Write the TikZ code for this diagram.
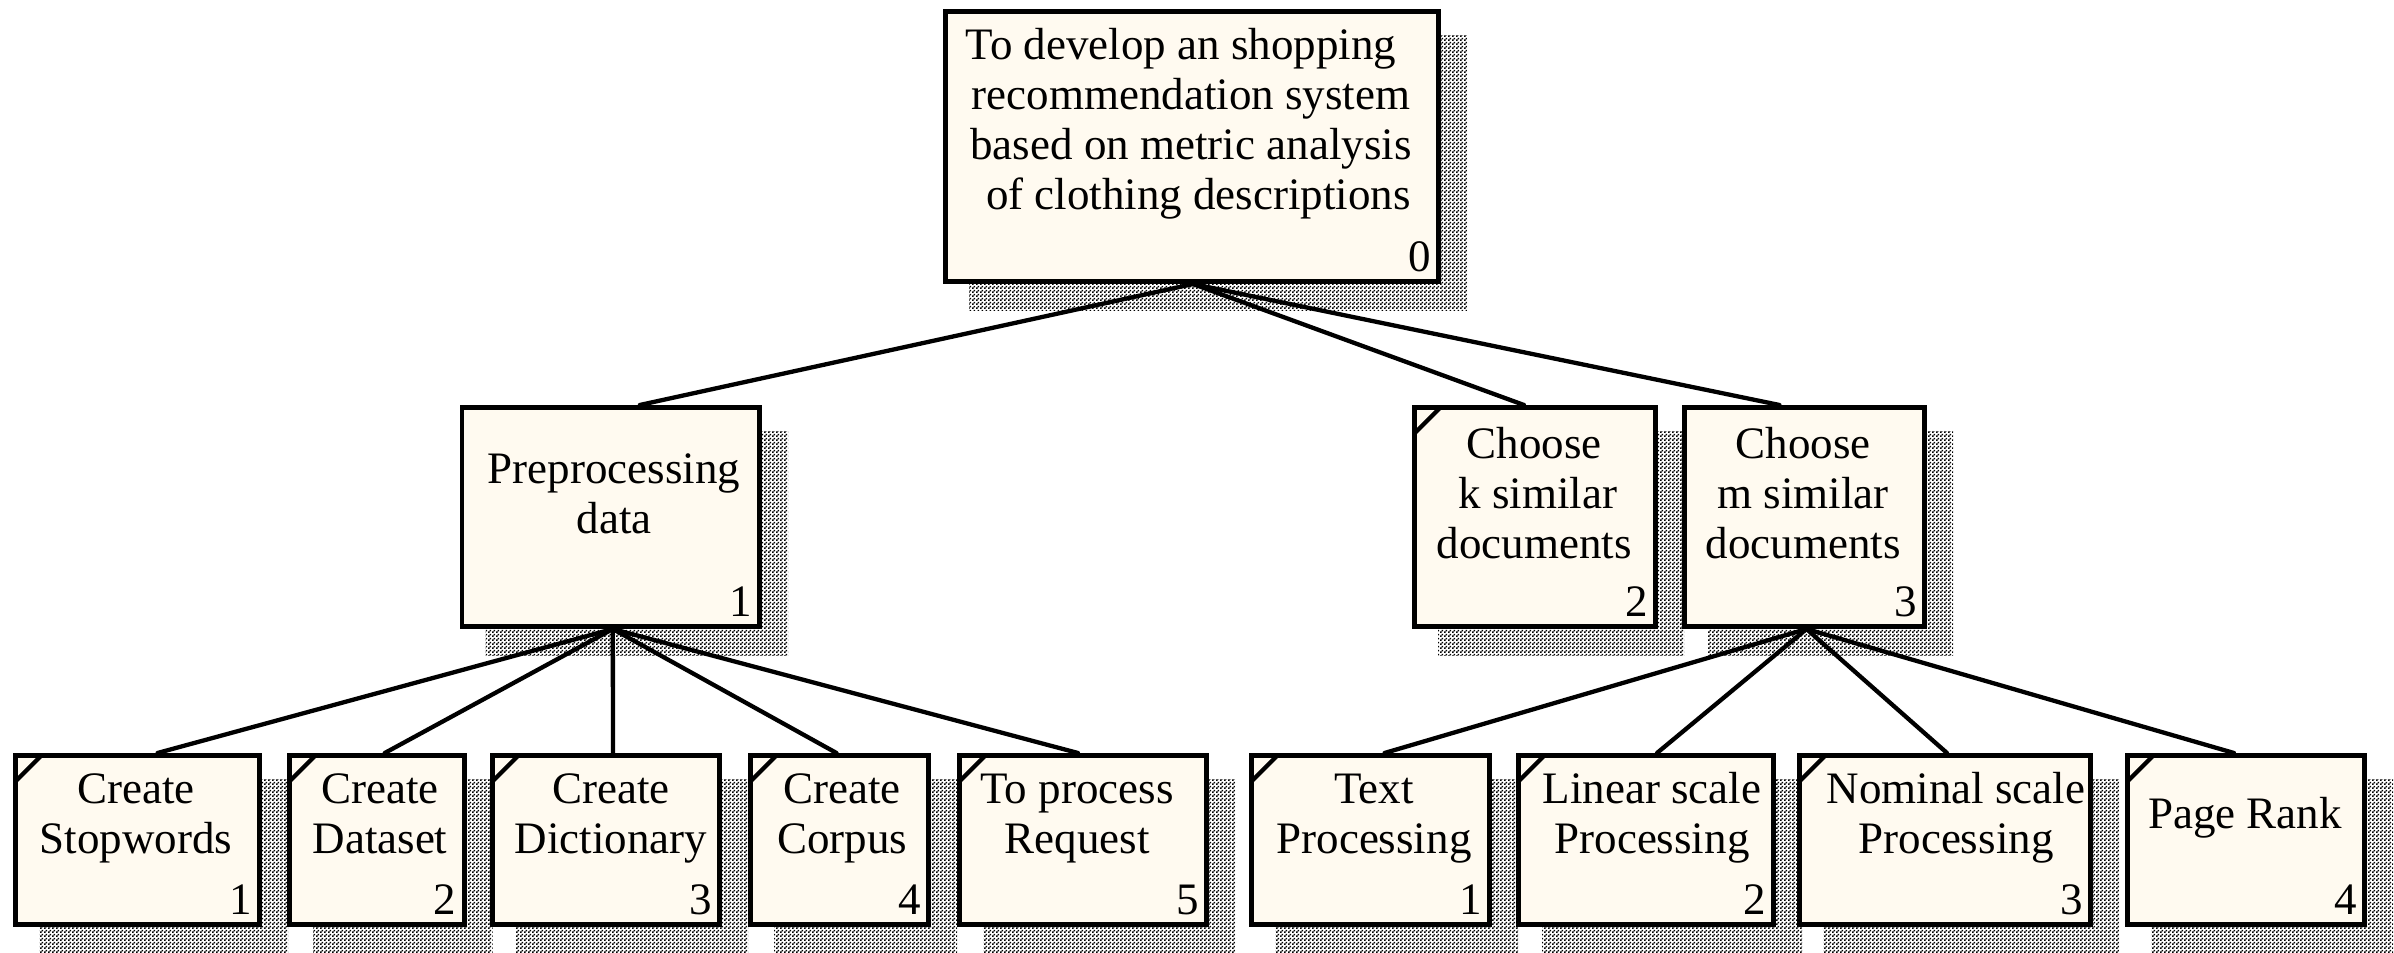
\documentclass[tikz,border=0pt]{standalone}
\usepackage{fontspec}
\setmainfont{Liberation Serif}
\usetikzlibrary{patterns.meta}

\definecolor{boxfill}{RGB}{255,250,240}

% dithered drop shadow
\tikzdeclarepattern{
  name=shadowdots,
  type=uncolored,
  bottom left={(0pt,0pt)},
  top right={(4pt,4pt)},
  tile size={(4pt,4pt)},
  code={
    \pgfpathrectangle{\pgfpointorigin}{\pgfpoint{2pt}{2pt}}
    \pgfpathrectangle{\pgfpoint{2pt}{2pt}}{\pgfpoint{2pt}{2pt}}
    \pgfusepath{fill}
  }
}

\pgfdeclarelayer{shadow}
\pgfdeclarelayer{lines}
\pgfsetlayers{shadow,lines,main}

\tikzset{
  box/.style={draw=black, line width=4.8pt, fill=boxfill, inner sep=0pt, outer sep=2.4pt},
  leaf/.style={path picture={\draw[line width=4.2pt]
      ([yshift=-26pt]path picture bounding box.north west) --
      ([xshift=26pt]path picture bounding box.north west);}},
  txt/.style={font=\fontsize{45}{50}\selectfont, align=center, inner sep=0pt},
  num/.style={font=\fontsize{45}{50}\selectfont, inner sep=0pt, anchor=base east},
  conn/.style={line width=4.3pt, line cap=round},
}

% name, left, top, right, bottom (outer edges), extra style
\newcommand\idefbox[6]{%
  \begin{pgfonlayer}{shadow}
    \fill[pattern=shadowdots] (#2+26,#3+26) rectangle (#4+26,#5+26);
  \end{pgfonlayer}
  \node[box, #6, minimum width={#4-#2-4.8}, minimum height={#5-#3-4.8}]
    (#1) at ({(#2+#4)/2},{(#3+#5)/2}) {};
}
% box name, digit
\newcommand\boxnum[2]{%
  \node[num] (#1n) at ([xshift=-10pt,yshift=13pt]#1.south east) {#2};
}

\begin{document}
\begin{tikzpicture}[x=1pt,y=-1pt]
\useasboundingbox (0,0) rectangle (2394,953);

% top level
\idefbox{a0}{943}{9}{1441}{284}{}
\node[txt] (a0t) at (1191,124) {\strut To develop an shopping\kern20pt\\
  \strut recommendation system\\ \strut based on metric analysis\\
  \mbox{\strut\kern15pt of clothing descriptions}};
\boxnum{a0}{0}

% second level
\idefbox{a1}{459.6}{405}{762}{629}{}
\node[txt] (a1t) at (614,498) {\strut Preprocessing\\ \strut data};
\boxnum{a1}{1}

\idefbox{a2}{1412}{405}{1658}{629}{leaf}
\node[txt] (a2t) at (1534,498) {\strut Choose\\ \mbox{\strut\kern8pt k similar}\\ \strut documents};
\boxnum{a2}{2}

\idefbox{a3}{1682}{405}{1927}{629}{}
\node[txt] (a3t) at (1803,498) {\strut Choose\\ \strut m similar\\ \strut documents};
\boxnum{a3}{3}

% third level, under "Preprocessing data"
\idefbox{b1}{13}{753}{262}{927}{leaf}
\node[txt] (b1t) at (136,818.5) {\strut Create\\ \strut Stopwords};
\boxnum{b1}{1}

\idefbox{b2}{287}{753}{466.5}{927}{leaf}
\node[txt] (b2t) at (380,818.5) {\strut Create\\ \strut Dataset};
\boxnum{b2}{2}

\idefbox{b3}{490}{753}{722}{927}{leaf}
\node[txt] (b3t) at (611,818.5) {\strut Create\\ \strut Dictionary};
\boxnum{b3}{3}

\idefbox{b4}{748}{753}{931}{927}{leaf}
\node[txt] (b4t) at (842,818.5) {\strut Create\\ \strut Corpus};
\boxnum{b4}{4}

\idefbox{b5}{957}{753}{1209}{927}{leaf}
\node[txt] (b5t) at (1077,818.5) {\strut To process\\ \strut Request};
\boxnum{b5}{5}

% third level, under "Choose m similar documents"
\idefbox{c1}{1249}{753}{1492}{927}{leaf}
\node[txt] (c1t) at (1374,818.5) {\strut Text\\ \strut Processing};
\boxnum{c1}{1}

\idefbox{c2}{1516}{753}{1776}{927}{leaf}
\node[txt] (c2t) at (1652,818.5) {\strut Linear scale\\ \strut Processing};
\boxnum{c2}{2}

\idefbox{c3}{1797}{753}{2093}{927}{leaf}
\node[txt] (c3t) at (1956,818.5) {\strut Nominal scale\\ \strut Processing};
\boxnum{c3}{3}

\idefbox{c4}{2125}{753}{2367}{927}{leaf}
\node[txt] (c4t) at (2245,818.5) {\strut Page Rank};
\boxnum{c4}{4}

% connectors
\begin{pgfonlayer}{lines}
  \draw[conn] ([xshift=1pt]a0.south) -- ([xshift=29pt]a1.north);
  \draw[conn] ([xshift=1pt]a0.south) -- ([xshift=-11pt]a2.north);
  \draw[conn] ([xshift=1pt]a0.south) -- ([xshift=-25pt]a3.north);

  \draw[conn] ([xshift=2pt]a1.south) -- ([xshift=20pt]b1.north);
  \draw[conn] ([xshift=2pt]a1.south) -- ([xshift=8pt]b2.north);
  \draw[conn] ([xshift=2pt]a1.south) -- ([xshift=7pt]b3.north);
  \draw[conn] ([xshift=2pt]a1.south) -- ([xshift=-3pt]b4.north);
  \draw[conn] ([xshift=2pt]a1.south) -- ([xshift=-5pt]b5.north);

  \draw[conn] ([xshift=2pt]a3.south) -- ([xshift=14pt]c1.north);
  \draw[conn] ([xshift=2pt]a3.south) -- ([xshift=11pt]c2.north);
  \draw[conn] ([xshift=2pt]a3.south) -- ([xshift=2pt]c3.north);
  \draw[conn] ([xshift=2pt]a3.south) -- ([xshift=-12pt]c4.north);
\end{pgfonlayer}
\end{tikzpicture}
\end{document}
